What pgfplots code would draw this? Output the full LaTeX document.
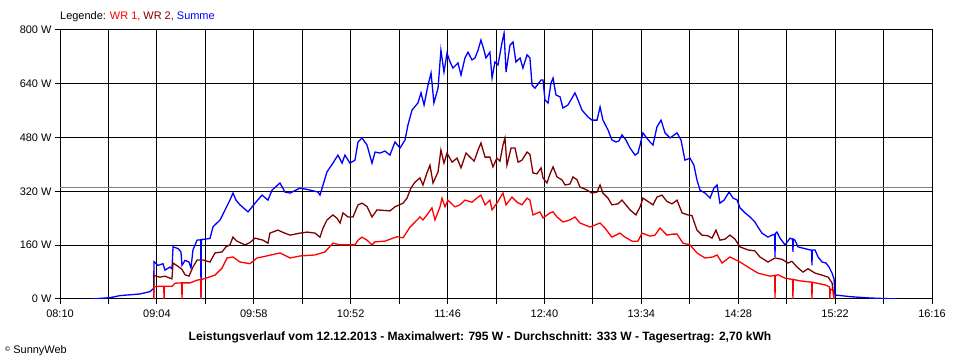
\documentclass[border=0pt]{standalone}
\usepackage{pgfplots}
\pgfplotsset{compat=1.18}
\usepackage{fontspec}
\setmainfont{Liberation Sans}
\definecolor{wrone}{HTML}{FF0000}
\definecolor{wrtwo}{HTML}{800000}
\definecolor{summe}{HTML}{0000FF}
\definecolor{avg}{HTML}{808080}
\begin{document}
\begin{tikzpicture}
\path[use as bounding box] (0,0) rectangle (960bp,360bp);
\begin{axis}[
  at={(60bp,61bp)}, anchor=south west,
  scale only axis, width=872bp, height=269bp,
  xmin=490, xmax=976, ymin=0, ymax=800,
  axis line style={black, line width=1bp},
  xtick={490,544,598,652,706,760,814,868,922,976},
  xticklabels={08:10,09:04,09:58,10:52,11:46,12:40,13:34,14:28,15:22,16:16},
  minor xtick={517,571,625,679,733,787,841,895,949},
  ytick={0,160,320,480,640,800},
  yticklabels={0 W,160 W,320 W,480 W,640 W,800 W},
  tick align=outside, tick pos=left,
  major tick length=5bp, minor tick length=5bp,
  tick style={black, line width=1bp},
  xmajorgrids, xminorgrids, ymajorgrids,
  major grid style={black, line width=1bp},
  minor grid style={black, line width=1bp},
  tick label style={font=\fontsize{11}{13}\selectfont},
  xticklabel style={yshift=-2bp},
  no markers,
]
\addplot[avg, line width=1bp] coordinates {(490,333) (976,333)};
\addplot[summe, line width=1.3bp] coordinates {
(507.8,0) (517.9,4) (523.4,10) (534.6,15) (540.2,22) (541.8,30) (542.2,30)
(542.4,111) (544.6,100) (547.4,105) (548.5,86) (551.3,95) (552.4,90)
(553.0,155) (555.8,150) (557.4,140) (558.0,100) (559.7,115) (561.9,110)
(563.0,92) (564.1,146) (566.4,175) (568.4,176) (568.6,5) (568.8,177) (570.8,178) (573.6,180)
(575.3,215) (579.2,235) (582.0,265) (584.7,294) (586.4,315) (588.1,294)
(590.3,280) (594.8,259) (598.7,285) (602.6,309) (605.9,294) (608.2,324)
(612.6,345) (615.4,318) (618.2,315) (623.8,330) (629.3,324) (633.8,318)
(634.9,309) (636.6,339) (638.8,378) (642.1,404) (644.9,428) (647.2,404)
(648.8,428) (651.6,404) (654.4,413) (656.1,467) (658.3,479) (661.1,458)
(663.9,404) (665.6,437) (668.4,434) (671.1,440) (673.9,428) (676.7,467)
(679.5,449) (682.3,473) (683.9,517) (686.2,562) (689.5,583) (691.2,613)
(692.9,577) (695.1,636) (696.8,672) (698.4,583) (700.7,627) (702.3,740)
(704.0,675) (705.7,731) (707.4,705) (709.0,687) (711.8,702) (713.5,666)
(715.7,717) (717.4,734) (719.6,711) (721.3,717) (723.0,740) (724.6,770)
(726.3,740) (727.4,717) (729.6,734) (730.8,657) (732.4,705) (734.1,696)
(736.3,761) (737.5,791) (738.6,675) (740.8,755) (742.5,764) (744.1,705)
(746.4,717) (748.0,687) (750.3,726) (751.9,717) (753.1,636) (754.7,627)
(758.1,651) (759.2,651) (760.3,592) (762.0,583) (763.6,642) (764.8,657)
(766.4,607) (768.7,601) (770.3,568) (773.1,577) (775.4,598) (777.0,613)
(778.7,592) (780.9,562) (784.3,541) (786.5,532) (789.3,532) (791.0,571)
(792.6,532) (795.4,503) (797.6,473) (799.9,467) (801.5,470) (803.2,488)
(805.4,473) (807.7,449) (810.5,428) (812.1,434) (813.3,458) (814.9,494)
(816.6,482) (818.8,467) (820.5,458) (822.7,512) (825.0,532) (827.2,494)
(830.0,479) (833.9,494) (836.1,473) (838.3,413) (841.1,419) (843.3,398)
(845.0,354) (846.7,324) (849.5,315) (852.3,300) (854.5,330) (856.2,339)
(857.8,285) (860.1,294) (862.9,318) (865.1,300) (867.3,295) (869.0,271)
(871.8,256) (874.6,244) (877.3,229) (879.0,214) (881.2,196) (884.6,184)
(886.8,190) (888.3,192) (888.5,125) (888.7,195) (889.6,199) (891.3,181)
(894.1,161) (896.9,181) (898.3,178) (898.5,140) (898.7,178) (899.6,175)
(901.3,155) (903.5,152) (908.0,146) (908.9,146) (909.1,100) (909.3,146)
(910.8,146) (912.5,125) (914.7,110) (916.9,107) (918.6,95) (920.3,77)
(921.4,60) (921.9,12) (930.3,7) (941.4,3) (956.5,0)
};
\addplot[wrtwo, line width=1.3bp] coordinates {
(542.2,0) (542.4,70) (545.7,65) (548.5,68) (551.3,62) (552.4,60) (553.0,107)
(555.8,97) (558.0,88) (559.7,72) (561.9,68) (564.1,95) (566.4,116)
(569.7,116) (573.6,110) (576.4,137) (580.3,140) (582.5,155) (584.7,161)
(586.4,184) (588.6,172) (593.1,161) (595.9,168) (598.7,181) (603.1,175)
(605.9,166) (607.0,196) (611.5,205) (614.3,198) (618.2,190) (623.8,196)
(627.7,199) (632.1,196) (634.9,184) (636.6,211) (638.8,235) (642.1,250)
(644.4,240) (646.1,226) (647.7,256) (650.5,244) (653.3,244) (656.1,280)
(658.3,285) (661.1,275) (663.9,244) (666.7,265) (673.9,262) (676.7,274)
(681.2,285) (683.4,300) (685.6,330) (687.9,348) (690.6,360) (692.3,339)
(694.5,375) (696.2,398) (697.9,345) (700.7,378) (702.3,443) (704.0,404)
(705.7,434) (708.5,407) (711.3,419) (713.5,390) (716.3,434) (718.5,422)
(720.8,410) (723.0,443) (724.6,464) (726.9,422) (729.6,422) (731.3,393)
(733.5,419) (735.2,410) (736.9,458) (738.0,479) (739.1,398) (741.4,449)
(743.6,449) (745.3,407) (747.5,413) (750.3,437) (751.9,430) (753.6,375)
(755.8,372) (758.1,390) (759.2,360) (761.4,345) (763.1,372) (764.8,393)
(767.0,363) (769.8,354) (771.5,339) (774.2,342) (775.9,363) (778.1,355)
(779.8,333) (783.7,324) (786.5,315) (789.3,318) (791.0,339) (792.6,315)
(795.4,300) (797.6,280) (801.0,283) (803.2,294) (805.4,280) (807.7,265)
(811.0,250) (813.3,274) (814.9,300) (817.7,290) (820.5,280) (822.7,303)
(825.5,309) (828.3,290) (831.1,283) (833.9,294) (836.7,256) (840.0,250)
(842.2,248) (845.0,205) (847.8,190) (851.1,188) (853.4,181) (855.6,205)
(857.8,175) (860.6,178) (863.4,190) (866.2,178) (869.0,155) (873.4,146)
(877.3,143) (880.1,125) (884.6,110) (888.5,122) (892.4,118) (895.7,107)
(897.9,112) (900.8,95) (904.1,80) (906.9,90) (910.8,77) (914.7,71)
(918.1,65) (920.3,48) (921.4,0)
};
\addplot[wrone, line width=1.3bp] coordinates {
(542.2,0) (542.4,36) (545.7,38) (547.8,38) (548.0,0) (548.2,38) (552.4,38)
(554.1,47) (557.8,48) (558.0,0) (558.2,48) (562.5,48) (566.4,56) (568.4,58)
(568.6,0) (568.8,58) (572.5,64) (576.4,71) (580.3,92) (583.1,122)
(586.4,125) (590.3,110) (595.9,105) (599.8,122) (604.3,127) (612.6,137)
(618.2,122) (623.8,128) (632.1,131) (637.7,140) (642.1,166) (646.1,161)
(654.4,161) (656.1,175) (658.3,184) (661.1,175) (663.9,161) (665.6,170)
(671.1,172) (675.6,181) (677.8,185) (681.2,182) (685.1,214) (687.9,229)
(690.6,244) (692.3,235) (694.5,250) (697.3,271) (699.0,235) (701.8,274)
(702.9,300) (704.6,274) (706.2,294) (710.1,274) (712.9,280) (715.7,294)
(719.6,288) (723.0,303) (724.6,309) (726.9,280) (729.6,294) (730.8,265)
(733.5,285) (736.9,315) (738.6,280) (741.9,303) (744.7,288) (747.5,280)
(750.3,300) (751.9,294) (753.6,250) (757.5,259) (759.2,241) (763.1,256)
(764.8,259) (767.0,244) (770.3,229) (774.2,235) (777.0,244) (779.8,226)
(785.4,214) (791.0,226) (793.7,211) (797.6,184) (802.1,196) (804.9,184)
(808.8,172) (812.1,172) (814.4,196) (818.8,187) (821.6,190) (824.4,211)
(828.3,190) (831.6,193) (833.9,193) (837.2,166) (841.1,161) (845.0,137)
(849.5,122) (853.9,125) (856.2,131) (859.0,107) (863.4,125) (869.0,110)
(873.4,95) (879.0,77) (885.7,68) (888.3,70) (888.5,0) (888.7,70) (890.2,72)
(894.1,62) (898.3,58) (898.5,0) (898.7,58) (902.4,54) (908.9,50) (909.1,0)
(909.3,50) (910.8,48) (916.4,42) (918.9,36) (919.1,0) (919.3,30) (920.9,25)
(921.4,0)
};
\end{axis}
\node[anchor=base west, inner sep=0pt, font=\fontsize{11}{13}\selectfont] at (60bp,340bp)
  {Legende: \textcolor{wrone}{WR 1,} \textcolor{wrtwo}{WR 2,} \textcolor{summe}{Summe}};
\node[anchor=base, inner sep=0pt, font=\fontsize{12.1}{14}\selectfont\bfseries] at (480bp,20bp)
  {Leistungsverlauf vom 12.12.2013 - Maximalwert: 795 W - Durchschnitt: 333 W - Tagesertrag: 2,70 kWh};
\node[anchor=base west, inner sep=0pt, font=\fontsize{11}{13}\selectfont] at (5bp,7bp)
  {\raisebox{2bp}{\fontsize{7}{8}\selectfont\textcopyright} SunnyWeb};
\end{tikzpicture}
\end{document}
